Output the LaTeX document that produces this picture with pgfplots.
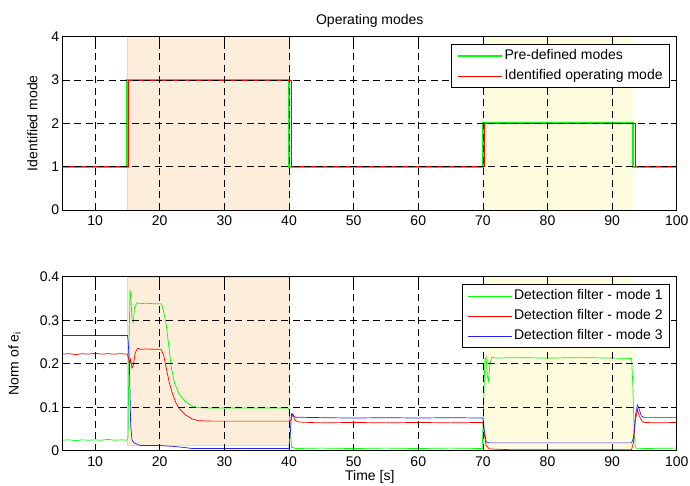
\documentclass[border=0pt]{standalone}
\usepackage{pgfplots}
\pgfplotsset{compat=1.18}
\usepackage{fontspec}
\setmainfont{Liberation Sans}
\definecolor{shadeO}{RGB}{252,238,218}
\definecolor{shadeY}{RGB}{255,253,222}
\definecolor{edgeO}{RGB}{250,205,205}
\definecolor{mgreen}{RGB}{0,255,0}
\definecolor{mred}{RGB}{255,0,0}
\definecolor{mblue}{RGB}{35,35,255}
\pgfplotsset{
  common/.style={
    scale only axis, width=614pt,
    xmin=5, xmax=100,
    xtick={10,20,...,100},
    grid=major,
    major grid style={black, line width=0.6pt, dash pattern=on 7pt off 4.5pt},
    axis line style={line width=0.8pt},
    tick style={black, line width=0.6pt},
    major tick length=6pt,
    axis on top,
    /pgf/number format/assume math mode=true,
    tick label style={font=\fontsize{14}{16}\selectfont},
    xticklabel style={yshift=-2.5pt},
    label style={font=\fontsize{14}{16}\selectfont},
    legend cell align=left,
    legend style={font=\fontsize{14}{16}\selectfont, draw=black, line width=0.8pt,
      at={(axis description cs:0.989,0.956)}, anchor=north east,
      inner xsep=5pt, inner ysep=3pt, row sep=3pt,
      nodes={inner sep=2pt, text height=10pt, text depth=3pt}},
    legend image code/.code={\draw[##1] (0pt,0pt) -- (44pt,0pt);},
  }
}
\begin{document}
\begin{tikzpicture}
\useasboundingbox (0pt,0pt) rectangle (690pt,485pt);
% ---------------- top axis ----------------
\begin{axis}[common,
  at={(62.8pt,275pt)}, anchor=south west, height=173.5pt,
  ymin=0, ymax=4, ytick={0,1,2,3,4},
  ylabel={Identified mode},
  ylabel style={at={(axis description cs:-0.0414,0.5)}, anchor=base},
  title={Operating modes},
  title style={font=\fontsize{14}{16}\selectfont, at={(axis description cs:0.5,1.034)}, anchor=base, yshift=0pt},
]
\addplot[fill=shadeO, draw=edgeO, line width=0.4pt, forget plot] coordinates {(15,0) (15,4) (40,4) (40,0)} -- cycle;
\addplot[fill=shadeY, draw=none, forget plot] coordinates {(70,0) (70,4) (93.2,4) (93.2,0)} -- cycle;
\addplot[mgreen, line width=2.2pt] coordinates {(5,1)(15,1)(15,3)(40,3)(40,1)(70,1)(70,2)(93.2,2)(93.2,1)(100,1)};
\addlegendentry{Pre-defined modes}
\addplot[mred, line width=0.7pt] coordinates {(5,1)(15.2,1)(15.2,3)(40.4,3)(40.4,1)(70.3,1)(70.3,2)(93.65,2)(93.65,1)(100,1)};
\addlegendentry{Identified operating mode}
\end{axis}
% ---------------- bottom axis ----------------
\begin{axis}[common,
  at={(62.8pt,34.3pt)}, anchor=south west, height=174pt,
  ymin=0, ymax=0.4, ytick={0,0.1,0.2,0.3,0.4},
  yticklabels={0,0.1,0.2,0.3,0.4},
  ylabel={Norm of e\textsubscript{i}},
  ylabel style={at={(axis description cs:-0.0720,0.5)}, anchor=base},
  xlabel={Time [s]},
  xlabel style={at={(axis description cs:0.5,-0.174)}, anchor=base},
]
\addplot[fill=shadeO, draw=edgeO, line width=0.4pt, forget plot] coordinates {(15,0.012) (15,0.4) (40,0.4) (40,0.012)} -- cycle;
\addplot[fill=shadeY, draw=none, forget plot] coordinates {(70,0) (70,0.4) (93.2,0.4) (93.2,0)} -- cycle;
\addplot[mgreen, line width=0.7pt] coordinates {
(5,0.024)(6,0.025)(7,0.023)(8,0.025)(9,0.024)(10,0.025)(11,0.024)(12,0.026)(13,0.024)(14,0.025)(14.9,0.024)
(15.1,0.03)(15.25,0.25)(15.4,0.37)(15.55,0.35)(15.7,0.30)(15.9,0.295)(16.1,0.33)(16.5,0.34)(17,0.338)(18,0.339)
(19,0.338)(20,0.338)(20.3,0.337)(20.6,0.32)(21,0.29)(21.4,0.24)(21.8,0.19)(22.3,0.155)(23,0.13)(24,0.112)
(25,0.103)(26,0.099)(28,0.098)(30,0.098)(35,0.098)(39.8,0.098)(40,0.095)(40.2,0.05)(40.4,0.008)(41,0.005)
(45,0.006)(50,0.005)(55,0.006)(60,0.005)(65,0.006)(69.9,0.005)(70.1,0.1)(70.3,0.205)(70.5,0.215)(70.7,0.17)
(70.85,0.16)(71.1,0.2)(71.4,0.215)(72,0.213)(75,0.214)(80,0.213)(85,0.214)(90,0.213)(93,0.212)(93.2,0.15)
(93.4,0.04)(93.6,0.006)(95,0.005)(100,0.006)};
\addlegendentry{Detection filter - mode 1}
\addplot[mred, line width=0.7pt] coordinates {
(5,0.222)(6,0.223)(7,0.221)(8,0.223)(9,0.222)(10,0.224)(11,0.222)(12,0.223)(13,0.222)(14,0.223)(15,0.222)
(15.2,0.21)(15.35,0.2)(15.5,0.21)(15.7,0.19)(15.9,0.195)(16.2,0.225)(16.6,0.236)(17,0.233)(18,0.234)(19,0.233)
(20.2,0.233)(20.6,0.22)(21,0.19)(21.5,0.155)(22,0.13)(22.5,0.11)(23,0.097)(24,0.082)(25,0.073)(26,0.069)
(28,0.068)(30,0.068)(35,0.068)(40,0.068)(40.3,0.07)(40.6,0.085)(40.9,0.07)(41.5,0.066)(43,0.065)(45,0.064)
(50,0.065)(55,0.064)(60,0.065)(65,0.064)(70,0.065)(70.2,0.04)(70.5,0.012)(71,0.004)(75,0.002)(80,0.002)
(85,0.002)(90,0.002)(93,0.002)(93.3,0.02)(93.6,0.07)(93.9,0.095)(94.2,0.08)(94.6,0.068)(95,0.065)(97,0.064)(100,0.065)};
\addlegendentry{Detection filter - mode 2}
\addplot[mblue, line width=0.7pt] coordinates {
(5,0.265)(15,0.265)(15.1,0.255)(15.3,0.2)(15.5,0.06)(15.7,0.025)(16,0.018)(17,0.012)(18,0.012)(20,0.012)
(22,0.01)(24,0.007)(25,0.005)(30,0.005)(40,0.005)(40.2,0.04)(40.4,0.085)(40.7,0.08)(41,0.077)(45,0.076)
(50,0.075)(55,0.076)(60,0.075)(65,0.076)(70,0.075)(70.2,0.05)(70.5,0.02)(71,0.018)(75,0.018)(80,0.018)
(85,0.018)(90,0.018)(93,0.018)(93.3,0.03)(93.6,0.08)(93.9,0.105)(94.2,0.095)(94.5,0.08)(95,0.076)(100,0.076)};
\addlegendentry{Detection filter - mode 3}
\end{axis}
\end{tikzpicture}
\end{document}
